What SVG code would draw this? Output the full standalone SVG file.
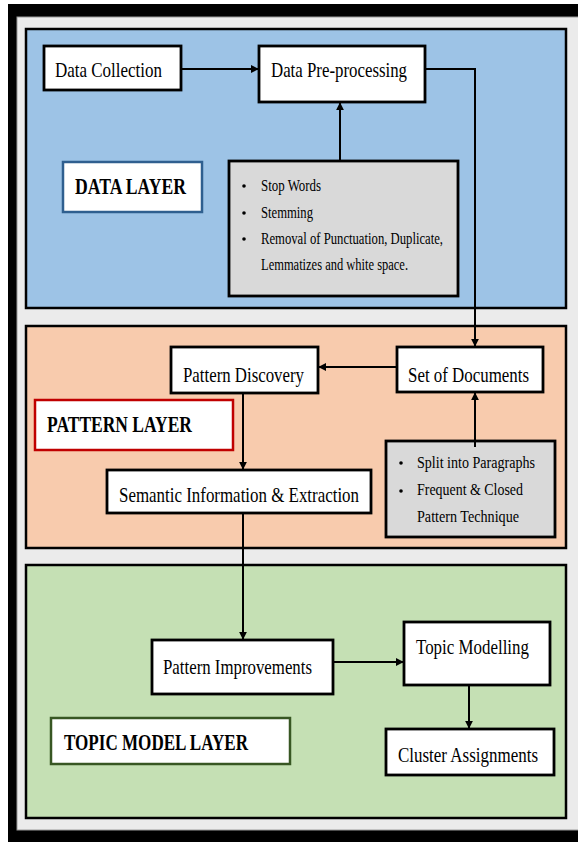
<svg xmlns="http://www.w3.org/2000/svg" width="578" height="842" viewBox="0 0 578 842">
<defs>
<marker id="ah" viewBox="0 0 10 10" refX="9" refY="5" markerWidth="4" markerHeight="4" orient="auto" markerUnits="strokeWidth">
<path d="M0,0 L10,5 L0,10 z" fill="#000"/>
</marker>
<style>
.layer{stroke:#000;stroke-width:2.5}
.box{fill:#fff;stroke:#000;stroke-width:2.8}
.gbox{fill:#d9d9d9;stroke:#000;stroke-width:2.8}
.t{font-family:"Liberation Serif","Times New Roman",serif;font-size:22px;fill:#000}
.b{font-family:"Liberation Serif","Times New Roman",serif;font-size:24px;font-weight:bold;fill:#000}
.s{font-family:"Liberation Serif","Times New Roman",serif;font-size:17px;fill:#000}
.s2{font-family:"Liberation Serif","Times New Roman",serif;font-size:16px;fill:#000}
.c{fill:none;stroke:#000;stroke-width:2;marker-end:url(#ah)}
</style>
</defs>
<rect x="0" y="0" width="578" height="842" fill="#fff"/>
<rect x="8" y="4" width="580" height="850" fill="#000"/>
<rect x="17" y="17" width="570" height="813" fill="#ebebeb" stroke="#9a9a9a" stroke-width="1"/>

<g id="data-layer">
<rect class="layer" x="26" y="29" width="540" height="279" fill="#9dc3e6"/>
</g>
<g id="pattern-layer">
<rect class="layer" x="26" y="326" width="540" height="222" fill="#f8cbad"/>
</g>
<g id="topic-layer">
<rect class="layer" x="26" y="565" width="540" height="253" fill="#c5e0b4"/>
</g>

<g id="data-collection">
<rect class="box" x="44" y="46" width="137" height="44"/>
<text class="t" x="55" y="77" textLength="107" lengthAdjust="spacingAndGlyphs">Data Collection</text>
</g>
<g id="data-preprocessing">
<rect class="box" x="259" y="46" width="166" height="56"/>
<text class="t" x="271" y="77" textLength="136" lengthAdjust="spacingAndGlyphs">Data Pre-processing</text>
</g>
<g id="data-layer-label">
<rect x="63" y="162" width="139" height="50" fill="#fff" stroke="#2f5f8f" stroke-width="2.5"/>
<text class="b" x="75" y="194" textLength="111" lengthAdjust="spacingAndGlyphs">DATA LAYER</text>
</g>
<g id="preprocessing-steps">
<rect class="gbox" x="229" y="161" width="229" height="135"/>
<circle cx="244" cy="186" r="1.8"/>
<circle cx="244" cy="213" r="1.8"/>
<circle cx="244" cy="239" r="1.8"/>
<text class="s" x="261" y="191" textLength="60" lengthAdjust="spacingAndGlyphs">Stop Words</text>
<text class="s" x="261" y="218" textLength="52" lengthAdjust="spacingAndGlyphs">Stemming</text>
<text class="s" x="261" y="244" textLength="182" lengthAdjust="spacingAndGlyphs">Removal of Punctuation, Duplicate,</text>
<text class="s" x="261" y="270" textLength="147" lengthAdjust="spacingAndGlyphs">Lemmatizes and white space.</text>
</g>

<g id="pattern-discovery">
<rect class="box" x="171" y="347" width="147" height="46"/>
<text class="t" x="183" y="382" textLength="121" lengthAdjust="spacingAndGlyphs">Pattern Discovery</text>
</g>
<g id="set-of-documents">
<rect class="box" x="397" y="347" width="146" height="45"/>
<text class="t" x="408" y="382" textLength="121" lengthAdjust="spacingAndGlyphs">Set of Documents</text>
</g>
<g id="pattern-layer-label">
<rect x="35" y="400" width="198" height="50" fill="#fff" stroke="#c00000" stroke-width="2.5"/>
<text class="b" x="47" y="432" textLength="145" lengthAdjust="spacingAndGlyphs">PATTERN LAYER</text>
</g>
<g id="semantic-extraction">
<rect class="box" x="107" y="470" width="264" height="43"/>
<text class="t" x="119" y="502" textLength="240" lengthAdjust="spacingAndGlyphs">Semantic Information &amp; Extraction</text>
</g>
<g id="pattern-techniques">
<rect class="gbox" x="386" y="441" width="169" height="96"/>
<circle cx="401" cy="463" r="1.8"/>
<circle cx="401" cy="491" r="1.8"/>
<text class="s2" x="417" y="468" textLength="118" lengthAdjust="spacingAndGlyphs">Split into Paragraphs</text>
<text class="s2" x="417" y="495" textLength="106" lengthAdjust="spacingAndGlyphs">Frequent &amp; Closed</text>
<text class="s2" x="417" y="522" textLength="102" lengthAdjust="spacingAndGlyphs">Pattern Technique</text>
</g>

<g id="pattern-improvements">
<rect class="box" x="152" y="640" width="181" height="54"/>
<text class="t" x="163" y="674" textLength="149" lengthAdjust="spacingAndGlyphs">Pattern Improvements</text>
</g>
<g id="topic-modelling">
<rect class="box" x="404" y="622" width="146" height="63"/>
<text class="t" x="416" y="654" textLength="113" lengthAdjust="spacingAndGlyphs">Topic Modelling</text>
</g>
<g id="cluster-assignments">
<rect class="box" x="386" y="729" width="168" height="46"/>
<text class="t" x="398" y="762" textLength="140" lengthAdjust="spacingAndGlyphs">Cluster Assignments</text>
</g>
<g id="topic-layer-label">
<rect x="51" y="718" width="239" height="46" fill="#fff" stroke="#385723" stroke-width="2.5"/>
<text class="b" x="64" y="750" textLength="184" lengthAdjust="spacingAndGlyphs">TOPIC MODEL LAYER</text>
</g>

<g id="connectors">
<path class="c" d="M181,69 H258"/>
<path class="c" d="M340,161 V103"/>
<path class="c" d="M425,69 H475 V346"/>
<path class="c" d="M397,367 H319"/>
<path class="c" d="M475,447 V393"/>
<path class="c" d="M243,393 V469"/>
<path class="c" d="M243,513 V639"/>
<path class="c" d="M333,662 H403"/>
<path class="c" d="M469,685 V728"/>
</g>
</svg>
